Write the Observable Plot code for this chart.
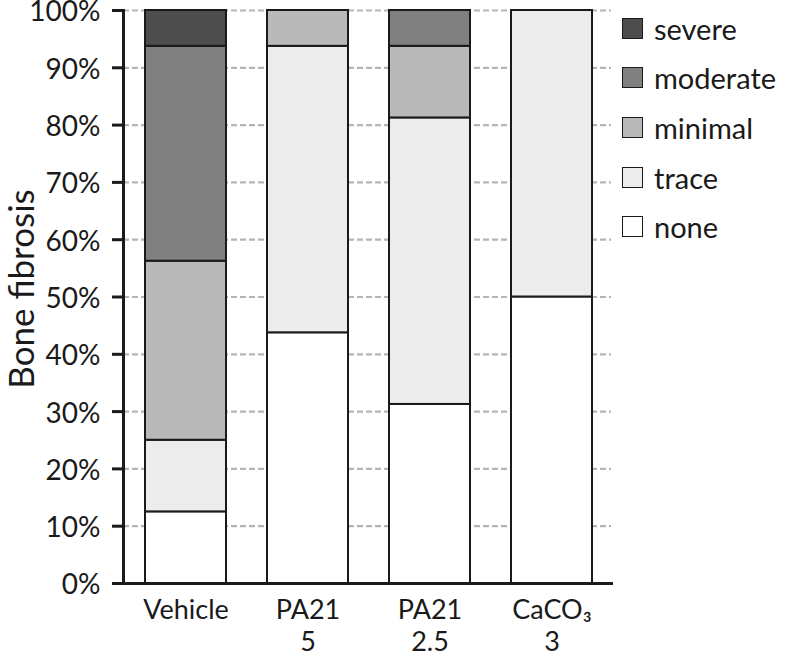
<!DOCTYPE html>
<html>
<head>
<meta charset="utf-8">
<script src="https://cdn.jsdelivr.net/npm/d3@7"></script>
<script src="https://cdn.jsdelivr.net/npm/@observablehq/plot@0.6"></script>
<style>
  html, body { margin: 0; padding: 0; background: #fff; }
  #wrap { position: relative; width: 786px; height: 656px; font-family: Lato, sans-serif; }
  #legend { position: absolute; left: 0; top: 0; }
  .item { position: absolute; left: 622px; height: 30px; display: flex; align-items: center; }
  .sw { width: 19px; height: 19px; border: 1.8px solid #1a1a1a; box-sizing: content-box; }
  .lab { margin-left: 11px; font-size: 29px; color: #1a1a1a; white-space: nowrap; }
</style>
</head>
<body>
<div id="wrap"><div id="legend"></div></div>
<script>
const groups = ["Vehicle", "PA21\n5", "PA21\n2.5", "CaCO\u2083\n3"];
const levels = ["none", "trace", "minimal", "moderate", "severe"];
const levelColors = ["#ffffff", "#ececec", "#b9b9b9", "#808080", "#4d4d4d"];
const none = [12.5, 43.75, 31.25, 50];
const trace = [12.5, 50, 50, 50];
const minimal = [31.25, 6.25, 12.5, 0];
const moderate = [37.5, 0, 6.25, 0];
const severe = [6.25, 0, 0, 0];
const yTicks = [0, 10, 20, 30, 40, 50, 60, 70, 80, 90, 100];
const yLabel = "Bone fibrosis";

const series = {none, trace, minimal, moderate, severe};
const data = [];
groups.forEach((g, i) => {
  levels.forEach(l => {
    if (series[l][i] > 0) data.push({group: g, level: l, value: series[l][i]});
  });
});

const ink = "#1a1a1a";
const plot = Plot.plot({
  width: 786,
  height: 656,
  marginLeft: 123,
  marginRight: 175,
  marginTop: 10,
  marginBottom: 73,
  style: {fontFamily: "Lato, sans-serif", fontSize: "28px", color: ink, background: "transparent"},
  x: {domain: groups, paddingInner: 0.34, paddingOuter: 0.155, align: 0.53, axis: null},
  y: {domain: [0, 100], axis: null},
  color: {domain: levels, range: levelColors},
  marks: [
    Plot.gridY(yTicks.filter(d => d > 0), {stroke: "#b5b5b5", strokeOpacity: 1, strokeWidth: 2.2, strokeDasharray: "6,3"}),
    Plot.barY(data, {x: "group", y: "value", fill: "level", stroke: ink, strokeWidth: 2, insetLeft: 0, insetRight: 0}),
    Plot.axisY(yTicks, {tickSize: 11, strokeWidth: 3, stroke: ink, text: null, label: null}),
    Plot.axisY(yTicks, {tickSize: 0, tickPadding: 23, tickFormat: d => d + "%", fontSize: 28, fill: ink, label: null, dy: 2}),
    Plot.axisX(groups, {tickSize: 0, tickPadding: 12, fontSize: 27, lineHeight: 1.2, fill: ink, label: null}),
    Plot.frame({anchor: "left", stroke: ink, strokeWidth: 3}),
    Plot.frame({anchor: "bottom", stroke: ink, strokeWidth: 3}),
    Plot.text([yLabel], {text: d => d, frameAnchor: "left", textAnchor: "middle", rotate: -90, lineAnchor: "bottom", dx: -90, dy: -8, fontSize: 35, fill: ink})
  ]
});
document.getElementById("wrap").appendChild(plot);

const legend = document.getElementById("legend");
levels.slice().reverse().forEach((l, i) => {
  const item = document.createElement("div");
  item.className = "item";
  item.style.top = (28 + i * 49.7 - 15) + "px";
  const sw = document.createElement("div");
  sw.className = "sw";
  sw.style.background = levelColors[levels.indexOf(l)];
  const lab = document.createElement("span");
  lab.className = "lab";
  lab.textContent = l;
  item.appendChild(sw);
  item.appendChild(lab);
  legend.appendChild(item);
});
</script>
</body>
</html>
